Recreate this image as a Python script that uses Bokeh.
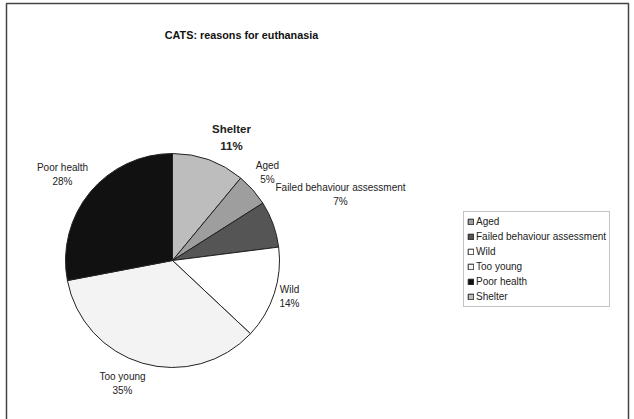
import math
from bokeh.plotting import figure
from bokeh.models import Range1d, ColumnDataSource, Legend, LegendItem
from bokeh.core.properties import value
from bokeh.embed import file_html
from bokeh.resources import INLINE

# Data (pie order: clockwise from 12 o'clock)
categories = ["Shelter", "Aged", "Failed behaviour assessment", "Wild", "Too young", "Poor health"]
percents = [11, 5, 7, 14, 35, 28]
colors = ["#bdbdbd", "#9e9e9e", "#555555", "#ffffff", "#f3f3f3", "#111111"]
legend_order = ["Aged", "Failed behaviour assessment", "Wild", "Too young", "Poor health", "Shelter"]
title_text = "CATS: reasons for euthanasia"

W, H = 634, 419
p = figure(width=W, height=H, output_backend="svg", toolbar_location=None,
           x_range=Range1d(0, W), y_range=Range1d(0, H), min_border=0)
p.axis.visible = False
p.grid.visible = False
p.outline_line_color = None
p.background_fill_color = "white"
p.border_fill_color = "white"

def Y(py):
    return H - py

# outer frame
p.quad(left=[6], right=[628], top=[Y(3)], bottom=[-10], fill_color=None,
       line_color="#444444", line_width=1.5)

# pie
cx, cy, r = 172, 260, 107
total = sum(percents)
starts, ends = [], []
c = 0.0
for v in percents:
    starts.append(math.pi / 2 - 2 * math.pi * c / total)
    c += v
    ends.append(math.pi / 2 - 2 * math.pi * c / total)
src = ColumnDataSource(dict(cat=categories, pct=percents, color=colors,
                            start=starts, end=ends))
wr = p.wedge(x=cx, y=Y(cy), radius=r, radius_units="screen",
             start_angle="start", end_angle="end", direction="clock",
             fill_color="color", line_color="#222222", line_width=1, source=src)

font = value("Liberation Sans")

# title
p.text(x=[241], y=[Y(34)], text=[title_text], text_font=font, text_font_size="10.8px",
       text_font_style="bold", text_align="center", text_baseline="middle", text_color="#111111")

# data labels (name, percent, x, y, bold)
label_pos = {
    "Shelter": (231, 128, True),
    "Aged": (267, 165, False),
    "Failed behaviour assessment": (340, 187, False),
    "Wild": (289, 289, False),
    "Too young": (122, 376, False),
    "Poor health": (62, 167, False),
}
for cat, pct in zip(categories, percents):
    lx, ly, bold = label_pos[cat]
    style = "bold" if bold else "normal"
    size = "11.5px" if bold else "10px"
    gap = 17 if bold else 14
    p.text(x=[lx], y=[Y(ly)], text=[cat], text_font=font, text_font_size=size,
           text_font_style=style, text_align="center", text_baseline="middle", text_color="#222222")
    p.text(x=[lx], y=[Y(ly + gap)], text=[f"{pct}%"], text_font=font, text_font_size=size,
           text_font_style=style, text_align="center", text_baseline="middle", text_color="#222222")

# legend
items = [LegendItem(label=name, renderers=[wr], index=categories.index(name)) for name in legend_order]
legend = Legend(items=items, location=(463, 112), label_text_font="Liberation Sans",
                label_text_font_size="10px", label_text_color="#222222",
                glyph_width=7, glyph_height=7, label_height=13, spacing=2,
                label_standoff=2, padding=3, margin=0,
                border_line_color="#888888", border_line_width=1,
                background_fill_color="white", background_fill_alpha=1)
p.add_layout(legend, "center")

html = file_html(p, INLINE)
open("out.html", "w").write(html)
